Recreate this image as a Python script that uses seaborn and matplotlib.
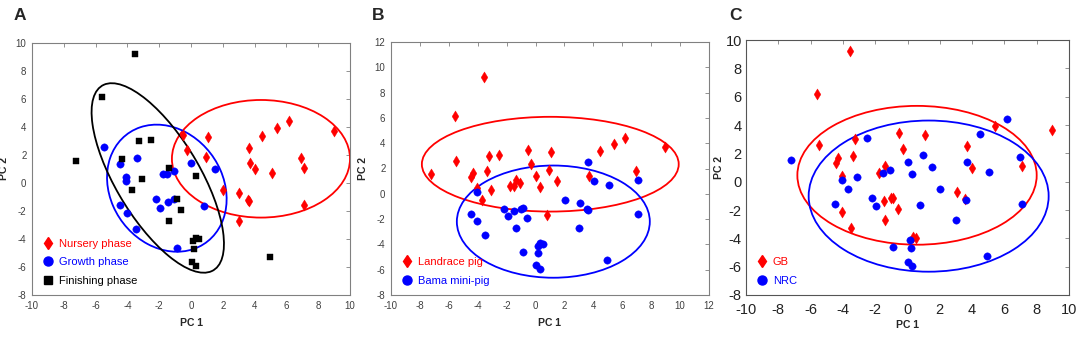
import pandas as pd
import matplotlib.pyplot as plt
import seaborn as sns
from matplotlib.patches import Ellipse
from matplotlib.lines import Line2D

# PCA scores (same pigs in every panel, regrouped)
pc1 = [
    -0.51, -0.28, 1.08, 0.96, 2.03, 3.05, 3.01, 3.58, 3.62, 3.66,
    3.70, 4.02, 4.48, 5.07, 5.43, 6.16, 6.94, 7.08, 7.10, 8.97,
    -5.49, -4.44, -3.37, -4.08, -4.06, -4.48, -4.04, -3.47, -2.21, -1.94,
    -1.77, -1.50, -1.10, -1.46, -1.04, 0.03, 1.50, 0.79, -0.87,
    -3.54, -5.59, -7.23, -4.31, -3.24, -2.53, -3.10, -3.68, -1.37, 0.30,
    -0.89, -0.60, -1.37, 0.14, 0.51, 0.20, 0.05, 0.30, 4.94, 0.32,
]
pc2 = [
    3.46, 2.34, 3.27, 1.89, -0.49, -0.70, -2.70, -1.20, -1.26, 2.49,
    1.42, 0.99, 3.37, 0.68, 3.94, 4.41, 1.77, 1.08, -1.58, 3.68,
    2.56, 1.35, 1.82, 0.42, 0.11, -1.58, -2.17, -3.29, -1.17, -1.75,
    0.63, 0.63, 0.85, -1.36, -1.17, 1.42, 1.01, -1.65, -4.62,
    9.24, 6.17, 1.56, 1.68, 2.99, 3.08, 0.30, -0.49, 1.08, 0.51,
    -1.13, -1.91, -2.74, -4.12, -3.98, -4.69, -5.64, -5.93, -5.26, -3.92,
]
phase = ["Nursery phase"] * 20 + ["Growth phase"] * 19 + ["Finishing phase"] * 20
breed = [
    "L", "L", "L", "L", "B", "B", "B", "B", "B", "B",
    "L", "B", "L", "B", "L", "L", "L", "B", "B", "L",
    "L", "L", "L", "L", "B", "B", "B", "B", "B", "B",
    "L", "L", "L", "B", "B", "L", "L", "L", "B",
    "L", "L", "L", "L", "L", "L", "L", "L", "L", "L",
    "B", "B", "B", "B", "B", "B", "B", "B", "B", "B",
]
diet = [
    "GB", "GB", "GB", "NRC", "NRC", "GB", "NRC", "GB", "NRC", "GB",
    "NRC", "GB", "NRC", "NRC", "GB", "NRC", "NRC", "GB", "NRC", "GB",
    "GB", "GB", "GB", "GB", "NRC", "NRC", "GB", "GB", "NRC", "NRC",
    "GB", "NRC", "NRC", "GB", "GB", "NRC", "NRC", "NRC", "NRC",
    "GB", "GB", "NRC", "GB", "GB", "NRC", "NRC", "NRC", "GB", "NRC",
    "GB", "GB", "GB", "NRC", "GB", "NRC", "NRC", "NRC", "NRC", "GB",
]
breed_names = {"L": "Landrace pig", "B": "Bama mini-pig"}

# confidence ellipses: (cx, cy, width, height, angle)
ellipses_a = {"Nursery phase": (4.40, 1.73, 11.2, 8.4, 0),
              "Growth phase": (-1.52, -0.37, 9.32, 7.22, 111),
              "Finishing phase": (-2.09, 0.36, 14.94, 5.42, 117)}
ellipses_b = {"Landrace pig": (1.02, 2.34, 17.77, 7.49, 0),
              "Bama mini-pig": (1.23, -2.20, 13.35, 8.87, 0)}
ellipses_c = {"GB": (0.59, 0.45, 14.82, 9.80, 0),
              "NRC": (1.31, -1.02, 14.86, 10.67, 0)}

df = pd.DataFrame({"pc1": pc1, "pc2": pc2, "phase": phase,
                   "breed": [breed_names[b] for b in breed], "diet": diet})

sns.set_theme(style="white")
plt.rcParams["font.family"] = ["Liberation Sans", "DejaVu Sans"]
plt.rcParams["axes.unicode_minus"] = False

RED, BLUE, BLACK = "#ff0000", "#0000ff", "#000000"

W, H = 1084, 339
fig = plt.figure(figsize=(W / 100, H / 100), dpi=100)
rects = [
    [32 / W, 44 / H, 318 / W, 252 / H],
    [391 / W, 44 / H, 318 / W, 253 / H],
    [746 / W, 44 / H, 323 / W, 255 / H],
]
letter_pos = [(14, 15), (372, 15), (729, 15)]
panels = [
    ("A", "phase", ["Nursery phase", "Growth phase", "Finishing phase"],
     [RED, BLUE, BLACK], ["d", "o", "s"], ellipses_a, (-10, 10), (-8, 10), 7, "#404040"),
    ("B", "breed", ["Landrace pig", "Bama mini-pig"],
     [RED, BLUE], ["d", "o"], ellipses_b, (-10, 12), (-8, 12), 7, "#404040"),
    ("C", "diet", ["GB", "NRC"],
     [RED, BLUE], ["d", "o"], ellipses_c, (-10, 10), (-8, 10), 10.5, "#222222"),
]

for rect, lpos, (letter, col, order, colors, marks, ells, xl, yl, tsize, tcol) in zip(rects, letter_pos, panels):
    ax = fig.add_axes(rect)
    sizes = {"d": 32, "o": 28, "s": 18}
    for lab, c, m in zip(order, colors, marks):
        sub = df[df[col] == lab]
        sns.scatterplot(data=sub, x="pc1", y="pc2", color=c, marker=m,
                        s=sizes[m], edgecolor=c, linewidth=0.3, ax=ax, legend=False, zorder=3)
        cx, cy, w, h, ang = ells[lab]
        ax.add_patch(Ellipse((cx, cy), w, h, angle=ang, fill=False,
                             edgecolor=c, linewidth=1.3, zorder=2))
    ax.set_xlim(*xl)
    ax.set_ylim(*yl)
    ax.set_xticks(range(xl[0], xl[1] + 1, 2))
    ax.set_yticks(range(yl[0], yl[1] + 1, 2))
    ax.tick_params(direction="in", length=3, width=0.6, top=True, right=True,
                   labelsize=tsize, labelcolor=tcol, color="#808080", pad=4)
    if letter == "C":
        ax.tick_params(axis="x", pad=6)
        ax.tick_params(axis="y", pad=3)
    for s in ax.spines.values():
        s.set_color("#808080" if letter != "C" else "#555555")
        s.set_linewidth(0.8)
    ax.set_xlabel("PC 1", fontsize=7.5, fontweight="bold", labelpad=5 if letter != "C" else 2)
    ax.set_ylabel("PC 2", fontsize=7.5, fontweight="bold", labelpad=5 if letter != "C" else 1)

    handles = [Line2D([], [], marker=m, color=c, linestyle="", markersize=6.5 if m != "s" else 5.5)
               for c, m in zip(colors, marks)]
    ax.legend(handles, order, loc="lower left", bbox_to_anchor=(0.0, 0.0),
              frameon=False, fontsize=8, labelcolor=colors, handletextpad=0.35,
              labelspacing=0.75, borderaxespad=0.45, handlelength=1.2)
    fig.text(lpos[0] / W, 1 - lpos[1] / H, letter, fontsize=12.5, fontweight="bold",
             va="center", ha="left")

fig.savefig("out.png", dpi=100)
